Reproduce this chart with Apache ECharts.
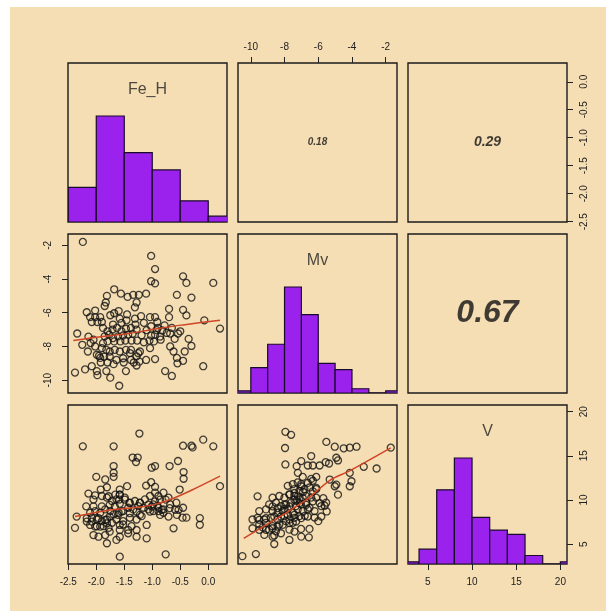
<!DOCTYPE html>
<html>
<head>
<meta charset="utf-8">
<title>pairs</title>
<script src="https://cdn.jsdelivr.net/npm/echarts@6/dist/echarts.min.js"></script>
<style>
html, body { margin: 0; padding: 0; background: #fff; }
#main { width: 610px; height: 615px; background: #f5deb3; box-shadow: inset 10px 7px 0 0 #fff, inset -4px -4px 0 0 #fff; }
</style>
</head>
<body>
<div id="main"></div>
<script>
// variables of the matrix and the range each one is drawn on
var varNames = ['Fe_H', 'Mv', 'V'];
var fehRange = [-2.505, 0.335];
var mvRange = [-10.76, -1.33];
var vRange = [2.75, 20.75];

var fehTicks = [-2.5, -2, -1.5, -1, -0.5, 0];
var mvTicks = [-10, -8, -6, -4, -2];
var vTicks = [5, 10, 15, 20];

// histograms (bin edges + counts)
var fehBins = [-2.5, -2, -1.5, -1, -0.5, 0, 0.5];
var fehCounts = [18, 55, 36, 27, 11, 3];
var mvBins = [-11, -10, -9, -8, -7, -6, -5, -4, -3, -2, -1];
var mvCounts = [1, 12, 23, 50, 37, 14, 11, 2, 0, 1];
var vBins = [2, 4, 6, 8, 10, 12, 14, 16, 18, 20, 22];
var vCounts = [1, 7, 35, 50, 22, 16, 14, 4, 0, 1];

// correlations, upper panels: Fe_H~Mv, Fe_H~V, Mv~V
var corrValues = [0.18, 0.29, 0.67];

// Fe_H (x) vs Mv (y)
var fehMv = [
    [-2.24, -1.80], [-1.02, -2.63], [-0.95, -3.41], [-1.02, -4.13], [-0.95, -4.26], [-0.45, -3.84], [-0.39, -4.23], [0.09, -4.23],
    [-1.68, -4.61], [-1.56, -4.87], [-1.44, -5.06], [-1.34, -4.94], [-1.24, -4.94], [-1.11, -4.87], [-1.81, -5.0], [-1.83, -5.39],
    [-1.28, -5.39], [-1.31, -5.68], [-0.56, -4.94], [-0.30, -5.10], [-0.07, -6.45], [0.21, -6.94], [-0.70, -5.77], [-0.45, -5.83],
    [-0.39, -6.16], [-0.70, -6.26],
    [-2.17, -5.97], [-2.02, -5.87], [-2.11, -6.26], [-2.02, -6.26], [-1.93, -6.26], [-2.08, -6.55], [-1.98, -6.55],
    [-1.68, -6.03], [-1.58, -6.35], [-1.46, -6.45], [-1.31, -6.35], [-1.04, -6.26], [-0.95, -6.26], [-0.91, -6.55],
    [-2.34, -7.23], [-2.14, -7.42], [-2.38, -9.55], [-2.20, -9.36], [-2.08, -9.17], [-1.99, -9.46], [-1.82, -9.46],
    [-2.02, -8.0], [-1.99, -8.49], [-1.93, -8.68], [-1.59, -10.33], [-1.47, -9.46], [-1.28, -8.59], [-1.22, -8.30], [-1.28, -9.13],
    [-1.40, -8.39], [-0.68, -7.23], [-0.54, -7.23], [-0.68, -8.0], [-0.62, -8.30], [-0.56, -8.68], [-0.42, -8.30], [-0.30, -7.97],
    [-0.77, -9.46], [-0.65, -9.75], [-0.09, -9.17], [-1.04, -8.10], [-0.86, -7.42], [-0.92, -7.03], [-1.10, -7.03], [-1.19, -7.33],
    [-1.88, -6.9], [-1.80, -7.1], [-1.71, -7.0], [-1.63, -6.9], [-1.55, -7.1], [-1.47, -6.95], [-1.38, -6.9], [-1.28, -7.0],
    [-1.85, -7.4], [-1.77, -7.3], [-1.70, -7.5], [-1.61, -7.4], [-1.52, -7.35], [-1.43, -7.3], [-1.35, -7.25],
    [-1.88, -7.8], [-1.80, -7.7], [-1.68, -7.7], [-1.57, -7.7], [-1.48, -7.65], [-1.37, -7.65], [-1.27, -7.65], [-1.15, -7.75], [-1.05, -7.65], [-0.97, -7.7],
    [-1.90, -8.1], [-1.82, -8.2], [-1.76, -8.3], [-1.67, -8.2], [-1.58, -8.3], [-1.47, -8.2], [-1.38, -8.2], [-1.25, -8.4],
    [-1.95, -8.55], [-1.86, -8.6], [-1.76, -8.6], [-1.64, -8.8], [-1.52, -8.7], [-1.38, -8.8],
    [-1.92, -8.95], [-1.80, -8.95], [-1.69, -9.05], [-1.51, -8.95], [-1.33, -8.95], [-1.23, -8.9], [-1.11, -8.8], [-0.95, -8.75],
    [-2.10, -7.8], [-2.25, -7.9], [-2.05, -7.6], [-2.15, -8.3], [-1.98, -9.7], [-1.75, -9.85],
    [-1.15, -6.6], [-1.02, -6.8], [-0.90, -6.9], [-0.82, -7.05], [-0.74, -7.2], [-0.95, -7.3], [-0.85, -7.6], [-1.02, -7.35],
    [-0.78, -6.75], [-0.65, -6.9], [-0.60, -7.55], [-0.50, -7.1], [-0.35, -7.55], [-0.55, -9.0], [-0.45, -8.85],
    [-1.20, -6.2], [-1.45, -6.1], [-1.60, -5.9], [-1.75, -6.15], [-1.85, -5.6], [-1.90, -6.55], [-1.30, -6.7], [-1.55, -6.6], [-1.70, -6.7]
];

// Fe_H (x) vs V (y)
var fehV = [
    [-1.23, 17.52], [-2.24, 16.07], [-1.69, 16.07], [-0.09, 16.83], [0.09, 16.07], [-0.45, 16.14], [-0.30, 16.14], [-0.28, 15.95],
    [-1.35, 14.8], [-1.26, 14.8], [-1.29, 14.3], [-1.01, 13.65], [-0.95, 13.84], [-0.69, 13.84], [-0.54, 14.41],
    [-1.69, 13.84], [-1.69, 13.08], [-1.69, 12.62], [-2.0, 12.62], [-1.84, 12.32], [-0.44, 13.16], [-0.44, 12.4],
    [-1.81, 11.44], [-1.58, 11.18], [-1.58, 10.61], [-1.45, 11.56], [-1.11, 11.63], [-1.02, 12.01], [-0.95, 11.48],
    [-0.51, 11.18], [0.21, 11.56], [-2.14, 10.72], [-2.02, 10.53], [-2.05, 10.04], [-1.92, 11.18],
    [-1.78, 10.42], [-1.66, 10.61], [-1.59, 10.04], [-1.49, 10.04], [-1.41, 9.66],
    [-2.18, 9.28], [-2.05, 9.28], [-1.90, 9.28],
    [-1.22, 9.66], [-1.07, 9.47], [-0.95, 9.85], [-0.86, 10.04], [-0.76, 10.04],
    [-0.15, 7.95], [-0.15, 7.19], [-2.38, 6.84], [-1.81, 5.1], [-1.64, 5.48], [-1.58, 3.58], [-0.76, 3.84],
    [-1.76, 9.45], [-1.67, 9.26], [-1.58, 9.56],
    [-1.01, 9.26], [-0.91, 9.34], [-0.83, 8.88], [-0.69, 9.07], [-0.59, 8.88], [-0.53, 8.88],
    [-2.35, 8.12], [-2.17, 7.93], [-2.08, 7.55], [-1.96, 7.93], [-1.84, 7.74], [-1.76, 8.12],
    [-1.61, 8.31], [-1.55, 8.69], [-1.40, 8.50], [-1.28, 8.69], [-1.22, 8.31], [-1.04, 8.69], [-0.86, 8.31], [-0.71, 8.12], [-0.56, 8.31], [-0.46, 8.0], [-0.39, 8.0],
    [-2.17, 7.55], [-2.11, 7.17], [-2.02, 6.98], [-1.93, 6.98], [-1.81, 7.36],
    [-2.05, 6.03], [-1.96, 5.84], [-1.84, 6.03], [-1.76, 6.41], [-1.58, 7.17], [-1.58, 6.60], [-1.43, 6.60], [-1.28, 6.60], [-1.10, 7.17], [-0.62, 6.79],
    [-1.58, 5.84], [-1.43, 6.22], [-1.28, 5.84], [-1.10, 5.65],
    [-1.90, 10.45], [-1.81, 10.26], [-1.72, 9.88], [-1.64, 10.07], [-1.58, 10.6], [-1.49, 10.26], [-1.40, 9.7], [-1.31, 9.88], [-1.22, 9.7], [-1.13, 10.07], [-1.04, 10.45], [-0.95, 10.83], [-0.89, 10.45], [-0.80, 10.83], [-0.71, 10.26],
    [-2.11, 8.55], [-2.02, 8.74], [-1.93, 8.55], [-1.84, 8.93], [-1.75, 8.74], [-1.69, 8.36], [-1.60, 8.55], [-1.52, 8.74], [-1.43, 9.12], [-1.34, 8.93], [-1.25, 9.31], [-1.16, 9.12], [-1.07, 8.93], [-0.98, 9.5], [-0.89, 9.12], [-0.80, 8.93], [-0.68, 9.5], [-0.57, 9.69], [-0.45, 9.12],
    [-2.08, 7.98], [-1.99, 7.79], [-1.90, 7.6], [-1.81, 7.79], [-1.72, 7.41], [-1.64, 7.79], [-1.52, 7.6], [-1.40, 7.98], [-1.28, 7.79], [-0.98, 8.74], [-0.89, 8.74], [-0.80, 8.55],
    [-1.99, 7.03], [-1.87, 7.03], [-1.78, 6.84], [-1.52, 7.22], [-1.37, 7.03], [-1.19, 8.17]
];

// Mv (x) vs V (y)
var mvV = [
    [-7.95, 17.71], [-7.61, 17.37], [-5.52, 16.57], [-5.02, 16.03], [-4.49, 15.85], [-4.13, 15.92], [-3.73, 16.03], [-1.70, 15.92], [-7.97, 15.88],
    [-6.42, 14.97], [-7.01, 14.40], [-6.62, 13.90], [-6.32, 13.90], [-5.92, 13.90], [-5.56, 14.28], [-5.36, 14.13], [-4.93, 14.78], [-4.83, 14.47],
    [-7.95, 14.02], [-7.28, 13.83], [-3.30, 13.75], [-2.54, 13.56], [-4.13, 13.07], [-4.03, 12.12], [-4.13, 11.55],
    [-5.32, 12.31], [-4.93, 11.74], [-5.02, 11.55], [-4.83, 10.60],
    [-7.21, 13.07], [-6.92, 12.61], [-6.42, 12.38], [-6.12, 12.61],
    [-7.01, 11.55], [-6.62, 11.93], [-6.12, 11.36], [-6.32, 10.98],
    [-9.60, 10.41],
    [-7.71, 10.60], [-7.41, 10.79], [-7.21, 10.41], [-6.92, 10.22],
    [-8.71, 9.27], [-8.41, 9.08], [-8.01, 9.46], [-7.71, 9.27], [-7.41, 10.03], [-7.11, 9.65], [-6.72, 9.46], [-6.32, 9.84], [-5.92, 9.65], [-5.62, 9.35],
    [-9.50, 7.75], [-9.10, 7.94], [-8.61, 8.13], [-8.21, 8.13], [-7.81, 8.32], [-7.41, 8.32], [-7.01, 7.94], [-6.62, 8.13], [-6.22, 8.01], [-5.82, 8.13],
    [-9.90, 6.80], [-9.50, 6.61], [-9.10, 6.61], [-8.71, 6.80], [-8.41, 6.99], [-8.11, 7.18], [-7.71, 7.37], [-7.31, 7.56],
    [-9.20, 6.04], [-8.71, 5.85], [-8.61, 5.01], [-8.21, 6.23], [-7.71, 5.47], [-7.41, 6.42], [-7.01, 5.85], [-6.56, 5.77],
    [-10.50, 3.64], [-9.70, 3.87],
    [-7.81, 11.6], [-7.51, 11.79], [-7.22, 11.98], [-7.02, 11.79], [-7.42, 11.22], [-7.12, 11.03], [-6.82, 11.22], [-6.52, 11.41], [-6.32, 12.17], [-6.12, 11.22],
    [-8.71, 10.26], [-8.31, 10.45], [-8.01, 10.26], [-7.71, 10.64], [-7.42, 10.45], [-7.12, 10.07], [-6.72, 10.45], [-6.42, 10.26], [-6.12, 10.26],
    [-8.91, 9.50], [-8.51, 9.69], [-8.21, 9.31], [-7.91, 9.50], [-7.61, 9.69], [-7.32, 9.31], [-7.02, 9.50], [-6.72, 9.69], [-6.52, 9.12], [-5.82, 9.31], [-5.53, 9.69],
    [-9.50, 8.74], [-9.10, 8.93], [-8.71, 8.74], [-8.41, 8.55], [-8.11, 8.74], [-7.81, 8.93], [-7.51, 8.55], [-7.22, 8.93], [-6.92, 8.74], [-6.62, 8.93], [-6.22, 8.74],
    [-9.90, 7.79], [-9.60, 7.98], [-9.20, 7.79], [-8.81, 7.98], [-8.41, 7.79], [-8.01, 8.17], [-7.71, 7.79], [-7.42, 7.98], [-7.12, 8.17],
    [-9.50, 7.22], [-9.10, 7.41], [-8.71, 7.03], [-8.31, 7.22], [-7.91, 7.60], [-7.51, 7.41],
    [-8.91, 6.64], [-8.51, 6.45], [-7.71, 6.64], [-7.02, 6.72], [-6.52, 6.72], [-8.61, 5.98],
    [-6.9, 10.9], [-7.3, 9.9], [-8.0, 9.0], [-6.8, 8.2], [-5.7, 10.2], [-5.5, 8.7], [-6.0, 7.6], [-9.3, 6.9]
];

// smoothed (lowess) lines
var smoothFehMv = [[-2.41, -7.65], [-1.99, -7.45], [-1.46, -7.25], [-0.92, -6.95], [-0.45, -6.72], [0.21, -6.45]];
var smoothFehV = [[-2.38, 8.12], [-1.81, 8.8], [-1.22, 9.2], [-0.95, 9.5], [-0.62, 10.2], [-0.3, 11.1], [0.21, 12.7]];
var smoothMvV = [[-10.42, 5.65], [-8.11, 8.3], [-6.72, 10.0], [-5.33, 12.2], [-4.14, 13.3], [-1.70, 15.9]];

(function () {
    var obj = {
        cols: [68, 238, 408],
        rows: [63, 234, 405],
        size: 159,
        purple: '#9a22ec',
        lineRed: '#cf4526',
        font: 'Liberation Sans, Arial, sans-serif',

        init: function () {
            this.ranges = [fehRange, mvRange, vRange];
            this.hists = [
                { bins: fehBins, counts: fehCounts },
                { bins: mvBins, counts: mvCounts },
                { bins: vBins, counts: vCounts }
            ];
            var chart = echarts.init(document.getElementById('main'), null, { renderer: 'canvas' });
            chart.setOption(this.buildOption());
        },

        tickAxis: function (gi, range, ticks, position, isY, fmt, margin) {
            return {
                type: 'value', gridIndex: gi, min: range[0], max: range[1], position: position,
                axisLine: { show: false, onZero: false },
                splitLine: { show: false },
                axisTick: { show: true, customValues: ticks, length: 6, lineStyle: { color: '#222', width: 1 } },
                axisLabel: {
                    show: true, customValues: ticks, fontSize: 10, color: '#222', margin: margin,
                    fontFamily: this.font, rotate: isY ? 90 : 0,
                    formatter: fmt
                }
            };
        },

        hiddenAxis: function (gi, range) {
            return { type: 'value', gridIndex: gi, min: range[0], max: range[1], show: false, splitLine: { show: false } };
        },

        histItem: function (self) {
            return function (params, api) {
                var p0 = api.coord([api.value(0), 0]);
                var p1 = api.coord([api.value(1), api.value(2)]);
                return {
                    type: 'rect',
                    shape: { x: p0[0], y: p1[1], width: p1[0] - p0[0], height: p0[1] - p1[1] },
                    style: { fill: self.purple, stroke: '#1a0a2a', lineWidth: 1.2 }
                };
            };
        },

        buildOption: function () {
            var self = this;
            var grids = [], xAxis = [], yAxis = [], series = [];
            var fmt1 = function (v) { return v.toFixed(1); };
            var fmt0 = function (v) { return String(v); };
            var corrIdx = 0;

            for (var r = 0; r < 3; r++) {
                for (var c = 0; c < 3; c++) {
                    var gi = r * 3 + c;
                    grids.push({
                        left: self.cols[c], top: self.rows[r], width: self.size, height: self.size,
                        show: true, borderColor: '#1b1b1b', borderWidth: 1.4, backgroundColor: 'transparent'
                    });
                    var xr = self.ranges[c];
                    var yr;
                    if (r === c) {
                        var maxc = Math.max.apply(null, self.hists[r].counts);
                        yr = [0, maxc * 1.5];
                    } else {
                        yr = self.ranges[r];
                    }

                    // x axis: top for middle column on first row, bottom for outer columns on last row
                    if (r === 0 && c === 1) {
                        xAxis.push(self.tickAxis(gi, xr, mvTicks, 'top', false, fmt0, 11));
                    } else if (r === 2 && c === 0) {
                        xAxis.push(self.tickAxis(gi, xr, fehTicks, 'bottom', false, fmt1, 13));
                    } else if (r === 2 && c === 2) {
                        xAxis.push(self.tickAxis(gi, xr, vTicks, 'bottom', false, fmt0, 13));
                    } else {
                        xAxis.push(self.hiddenAxis(gi, xr));
                    }

                    if (r === 0 && c === 2) {
                        yAxis.push(self.tickAxis(gi, yr, fehTicks, 'right', true, fmt1, 12));
                    } else if (r === 1 && c === 0) {
                        yAxis.push(self.tickAxis(gi, yr, mvTicks, 'left', true, fmt0, 15));
                    } else {
                        yAxis.push(self.hiddenAxis(gi, yr));
                    }

                    if (r === c) {
                        var h = self.hists[r];
                        var hdata = [];
                        for (var k = 0; k < h.counts.length; k++) {
                            hdata.push([h.bins[k], h.bins[k + 1], h.counts[k]]);
                        }
                        series.push({
                            type: 'custom', xAxisIndex: gi, yAxisIndex: gi, clip: true,
                            renderItem: self.histItem(self), data: hdata, silent: true,
                            encode: { x: [0, 1], y: 2 }
                        });
                        series.push({
                            type: 'scatter', xAxisIndex: gi, yAxisIndex: gi, symbolSize: 0, silent: true,
                            data: [[(xr[0] + xr[1]) / 2, yr[1] * 0.83, varNames[r]]],
                            label: {
                                show: true, position: 'inside', formatter: function (p) { return p.value[2]; },
                                fontSize: 16, color: '#222', fontFamily: self.font
                            }
                        });
                    } else if (r < c) {
                        var cv = corrValues[corrIdx++];
                        series.push({
                            type: 'scatter', xAxisIndex: gi, yAxisIndex: gi, symbolSize: 0, silent: true,
                            data: [[(xr[0] + xr[1]) / 2, (yr[0] + yr[1]) / 2, cv.toFixed(2)]],
                            label: {
                                show: true, position: 'inside', formatter: function (p) { return p.value[2]; },
                                fontSize: Math.max(10, Math.round(48 * cv)), fontStyle: 'italic', fontWeight: 'bold',
                                color: '#111', fontFamily: self.font
                            }
                        });
                    }
                }
            }
            // extra right axis for V on the last diagonal panel
            yAxis.push(self.tickAxis(8, vRange, vTicks, 'right', true, fmt0, 12));

            var lower = [
                { gi: 3, pts: fehMv, line: smoothFehMv },
                { gi: 6, pts: fehV, line: smoothFehV },
                { gi: 7, pts: mvV, line: smoothMvV }
            ];
            lower.forEach(function (p) {
                series.push({
                    type: 'scatter', xAxisIndex: p.gi, yAxisIndex: p.gi, data: p.pts, silent: true,
                    symbol: 'circle', symbolSize: 7,
                    itemStyle: { color: 'rgba(0,0,0,0)', borderColor: '#141414', borderWidth: 1.3 }
                });
                series.push({
                    type: 'line', xAxisIndex: p.gi, yAxisIndex: p.gi, data: p.line, silent: true,
                    showSymbol: false, smooth: 0.3, z: 5,
                    lineStyle: { color: self.lineRed, width: 1.5 }
                });
            });

            return {
                animation: false,
                grid: grids,
                xAxis: xAxis,
                yAxis: yAxis,
                series: series
            };
        }
    };
    obj.init();
})();
</script>
</body>
</html>
